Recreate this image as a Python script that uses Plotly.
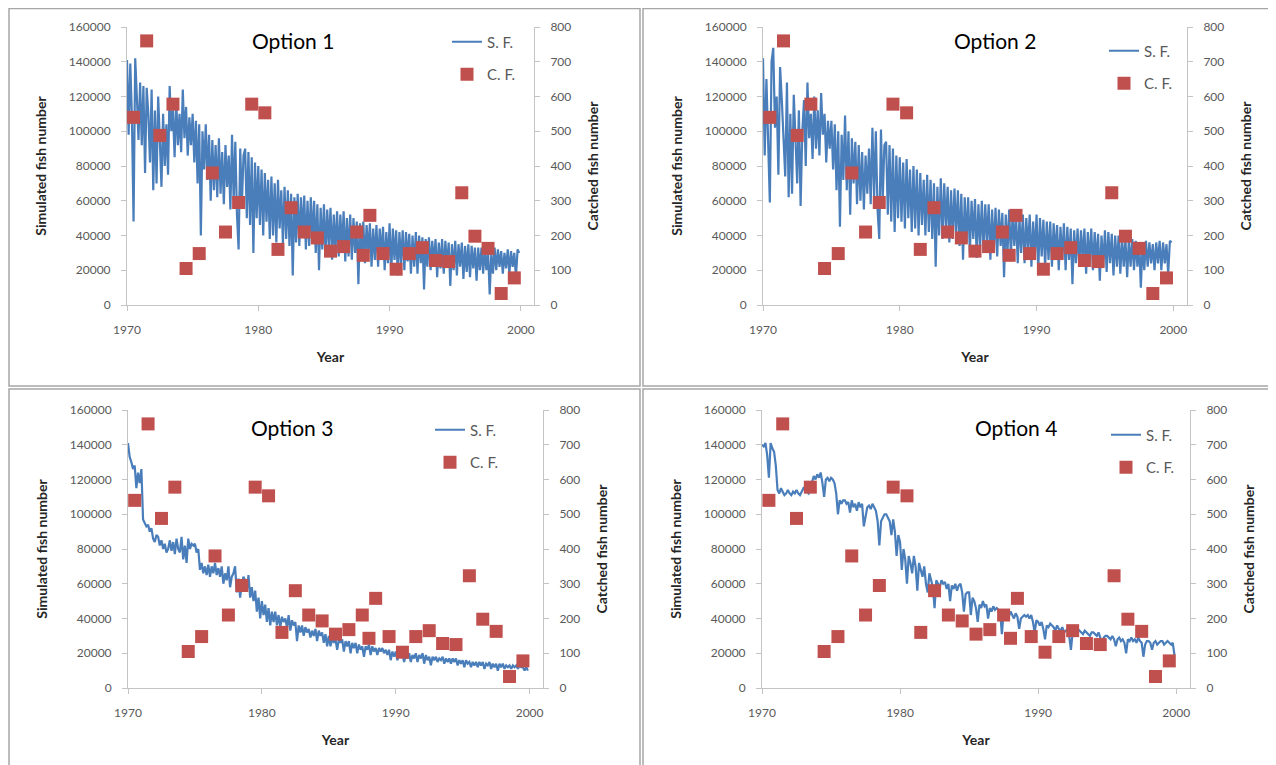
import plotly.graph_objects as go

# ---------------- DATA ----------------
start_year = 1970
steps_per_year = 8  # simulated series sampled 8 times per year

# Simulated fish number (S. F.), in thousands, one row per year 1970..1999
sf_opt1_thousands = [
    141, 98, 139, 108, 48, 142, 120, 95,
    128, 92, 126, 76, 125, 110, 82, 124,
    66, 112, 70, 120, 95, 68, 110, 80,
    104, 75, 126, 100, 112, 85, 118, 92,
    110, 88, 124, 96, 114, 86, 108, 92,
    110, 82, 106, 70, 104, 40, 100, 78,
    104, 72, 98, 60, 95, 66, 92, 62,
    96, 64, 88, 58, 92, 68, 86, 55,
    98, 60, 94, 52, 32, 90, 58, 86,
    90, 50, 88, 46, 85, 30, 82, 50,
    80, 46, 78, 40, 76, 48, 72, 38,
    74, 40, 70, 36, 72, 44, 66, 35,
    68, 38, 66, 34, 64, 17, 62, 36,
    64, 34, 62, 40, 63, 32, 60, 34,
    62, 36, 60, 30, 58, 20, 56, 32,
    58, 28, 55, 34, 56, 26, 52, 30,
    54, 28, 52, 32, 54, 25, 50, 28,
    52, 26, 50, 30, 48, 12, 47, 27,
    48, 24, 46, 30, 47, 22, 44, 26,
    46, 22, 44, 28, 45, 20, 42, 24,
    47, 18, 44, 26, 43, 17, 42, 24,
    43, 20, 42, 25, 41, 18, 40, 22,
    42, 18, 40, 24, 39, 9, 38, 22,
    39, 20, 37, 23, 38, 16, 36, 21,
    38, 18, 37, 22, 36, 11, 35, 20,
    37, 17, 35, 22, 36, 15, 34, 19,
    35, 16, 34, 21, 33, 14, 33, 20,
    33, 18, 32, 20, 31, 6, 30, 18,
    33, 20, 32, 22, 31, 18, 30, 21,
    32, 18, 31, 22, 30, 16, 32, 30,
]

sf_opt2_thousands = [
    142, 86, 130, 100, 59, 140, 148, 102,
    120, 75, 137, 118, 96, 74, 128, 62,
    110, 64, 121, 90, 70, 112, 57, 100,
    118, 80, 128, 96, 110, 84, 120, 90,
    112, 86, 122, 98, 110, 82, 106, 90,
    106, 78, 104, 66, 100, 45, 98, 72,
    109, 66, 100, 52, 96, 70, 94, 58,
    92, 60, 88, 55, 86, 64, 90, 58,
    102, 62, 100, 55, 38, 101, 60, 92,
    94, 52, 92, 48, 90, 42, 86, 50,
    85, 48, 82, 44, 84, 50, 78, 42,
    80, 44, 78, 40, 76, 46, 72, 40,
    75, 42, 72, 38, 70, 22, 68, 40,
    73, 38, 70, 44, 68, 36, 66, 38,
    67, 40, 66, 34, 64, 26, 62, 36,
    62, 30, 60, 38, 61, 27, 58, 34,
    60, 30, 58, 36, 58, 26, 55, 30,
    56, 28, 55, 34, 53, 16, 52, 30,
    55, 28, 52, 34, 52, 24, 50, 30,
    52, 24, 50, 32, 52, 22, 48, 28,
    52, 20, 50, 28, 49, 22, 48, 26,
    48, 22, 47, 28, 46, 20, 45, 26,
    47, 20, 45, 26, 44, 12, 43, 24,
    44, 22, 43, 26, 44, 18, 42, 24,
    44, 20, 42, 24, 41, 14, 40, 22,
    43, 19, 42, 24, 41, 17, 40, 22,
    40, 18, 39, 22, 38, 16, 38, 22,
    38, 20, 37, 22, 36, 10, 36, 20,
    37, 22, 36, 24, 35, 20, 36, 24,
    37, 20, 36, 24, 35, 18, 37, 36,
]

sf_opt3_thousands = [
    141, 133, 130, 126, 128, 115, 124, 118,
    126, 97, 95, 93, 94, 90, 92, 86,
    84, 88, 87, 82, 85, 80, 83, 78,
    80, 85, 79, 84, 77, 86, 80, 78,
    87, 74, 82, 72, 86, 80, 83, 82,
    83, 78, 80, 68, 72, 66, 70, 65,
    71, 64, 70, 66, 72, 65, 69, 64,
    70, 60, 66, 62, 70, 58, 64, 66,
    70, 55, 63, 52, 60, 64, 62, 56,
    65, 52, 58, 50, 56, 44, 52, 40,
    50, 42, 48, 38, 46, 36, 44, 38,
    44, 36, 42, 35, 41, 38, 40, 35,
    42, 33, 39, 36, 38, 27, 36, 32,
    36, 30, 35, 32, 34, 29, 33, 30,
    34, 27, 33, 30, 32, 26, 31, 24,
    30, 24, 29, 26, 28, 22, 28, 26,
    28, 21, 27, 24, 27, 20, 26, 23,
    26, 20, 25, 22, 24, 18, 24, 22,
    25, 19, 24, 21, 23, 19, 23, 21,
    23, 20, 22, 19, 22, 16, 21, 18,
    21, 16, 20, 18, 20, 15, 19, 17,
    20, 15, 19, 17, 20, 15, 19, 17,
    20, 14, 19, 16, 18, 13, 18, 16,
    18, 15, 17, 16, 18, 14, 17, 15,
    17, 14, 17, 15, 17, 13, 16, 14,
    16, 12, 16, 14, 15, 12, 15, 13,
    15, 12, 15, 13, 15, 11, 14, 13,
    15, 11, 14, 12, 14, 10, 14, 12,
    14, 11, 13, 12, 13, 11, 13, 12,
    13, 11, 13, 12, 12, 10, 12, 10,
]

sf_opt4_thousands = [
    140, 139, 141, 134, 121, 141, 138, 136,
    128, 114, 112, 115, 113, 111, 112, 114,
    112, 111, 113, 112, 114, 112, 111, 113,
    115, 114, 113, 112, 115, 118, 122, 120,
    123, 121, 124, 118, 110, 120, 121, 119,
    121, 120, 118, 112, 100, 108, 106, 108,
    108, 106, 107, 101, 108, 104, 106, 102,
    107, 104, 106, 93, 100, 104, 105, 103,
    106, 104, 102, 96, 82, 96, 98, 100,
    100, 98, 96, 88, 97, 90, 76, 88,
    84, 68, 80, 74, 60, 76, 72, 66,
    76, 70, 56, 72, 68, 64, 70, 60,
    55, 66, 62, 58, 46, 62, 60, 58,
    62, 60, 61, 57, 60, 50, 59, 57,
    60, 56, 59, 60, 55, 44, 54, 55,
    55, 42, 52, 50, 46, 38, 48, 46,
    50, 47, 48, 40, 46, 44, 47, 45,
    46, 45, 44, 31, 44, 42, 43, 41,
    44, 42, 40, 43, 41, 34, 40, 41,
    42, 41, 42, 40, 42, 38, 32, 39,
    38, 36, 38, 34, 28, 36, 35, 37,
    36, 35, 33, 36, 34, 33, 35, 32,
    33, 34, 30, 22, 32, 33, 32, 34,
    33, 32, 31, 33, 32, 31, 30, 32,
    32, 31, 30, 32, 29, 22, 29, 30,
    30, 29, 28, 30, 28, 24, 28, 29,
    27, 28, 26, 20, 28, 27, 29, 27,
    28, 26, 29, 27, 26, 18, 25, 27,
    27, 26, 22, 26, 27, 25, 26, 27,
    27, 25, 26, 27, 26, 25, 26, 19,
]

# Catched fish number (C. F.), same observations in every panel
cf_years = [1970.5, 1971.5, 1972.5, 1973.5, 1974.5, 1975.5, 1976.5, 1977.5,
            1978.5, 1979.5, 1980.5, 1981.5, 1982.5, 1983.5, 1984.5, 1985.5,
            1986.5, 1987.5, 1988.0, 1988.5, 1989.5, 1990.5, 1991.5, 1992.5,
            1993.5, 1994.5, 1995.5, 1996.5, 1997.5, 1998.5, 1999.5]
cf_values = [540, 760, 488, 578, 105, 148, 380, 210,
             295, 578, 553, 160, 280, 210, 193, 155,
             168, 210, 143, 258, 148, 103, 148, 165,
             128, 125, 323, 198, 163, 33, 78]

option_titles = ["Option 1", "Option 2", "Option 3", "Option 4"]
sf_series_thousands = [sf_opt1_thousands, sf_opt2_thousands,
                       sf_opt3_thousands, sf_opt4_thousands]

x_ticks = [1970, 1980, 1990, 2000]
left_ticks = [0, 20000, 40000, 60000, 80000, 100000, 120000, 140000, 160000]
right_ticks = [0, 100, 200, 300, 400, 500, 600, 700, 800]

# ---------------- LAYOUT (pixel geometry) ----------------
# The page body has an 8 px margin, so the figure is sized to fill the rest
# of the 1276x765 window and all positions are given in window pixels.
PAGE_OFFSET = 8
W, H = 1276 - PAGE_OFFSET, 765 - PAGE_OFFSET
BLUE = "#4a7ebb"
RED = "#c0504d"
AXIS = "#c4c4c4"
TICKTXT = "#595959"
TITLETXT = "#262626"
FONT = "Lato"

def px(x):
    return (x - PAGE_OFFSET) / W

def py(y):
    return 1 - (y - PAGE_OFFSET) / H

# plot-area pixel boxes in window coords: (left, right, top, bottom)
panel_boxes = [
    (127, 534, 27, 305),
    (763, 1187, 27, 305),
    (128, 543, 410, 688),
    (762, 1190, 410, 688),
]
title_pos = [(293, 41), (995, 41), (292, 427), (1016, 427)]
legend_pos = [(447, 25.5), (1104, 34.5), (430, 413.5), (1106, 418.5)]
frames = [(9, 8.6, 640, 386), (643, 8.6, 1274.5, 386),
          (9, 389, 640, 772), (643, 389, 1274.5, 772)]

fig = go.Figure()
layout = dict(
    width=W, height=H,
    margin=dict(l=0, r=0, t=0, b=0, pad=0, autoexpand=False),
    paper_bgcolor="white", plot_bgcolor="white",
    font=dict(family=FONT, size=12, color=TICKTXT),
    showlegend=True,
    annotations=[], shapes=[],
)

for k in range(4):
    n = k + 1
    xname = "x" if n == 1 else f"x{n}"
    yl = "y" if n == 1 else f"y{n}"
    yr = f"y{n + 4}"
    legname = "legend" if n == 1 else f"legend{n}"
    sf_vals = [v * 1000 for v in sf_series_thousands[k]]
    sf_time = [start_year + i / steps_per_year for i in range(len(sf_vals))]

    fig.add_trace(go.Scatter(
        x=sf_time, y=sf_vals, mode="lines", name="S. F.",
        line=dict(color=BLUE, width=2.2), xaxis=xname, yaxis=yl,
        legend=legname, legendgroup=f"sf{n}",
    ))
    fig.add_trace(go.Scatter(
        x=cf_years, y=cf_values, mode="markers", name="C. F.",
        marker=dict(symbol="square", size=13, color=RED),
        xaxis=xname, yaxis=yr, legend=legname, legendgroup=f"cf{n}",
    ))

    l, r, t, b = panel_boxes[k]
    xkey = "xaxis" if n == 1 else f"xaxis{n}"
    ylkey = "yaxis" if n == 1 else f"yaxis{n}"
    yrkey = f"yaxis{n + 4}"
    layout[xkey] = dict(
        domain=[px(l), px(r)], anchor=yl, range=[1970, 2001],
        tickvals=x_ticks, tickformat="d", showgrid=False, zeroline=False,
        showline=True, linecolor=AXIS, linewidth=1, automargin=False,
        ticks="outside", ticklen=5, tickcolor=AXIS, ticklabelstandoff=9,
        tickfont=dict(size=12, color=TICKTXT, family=FONT),
        title=dict(text="<b>Year</b>", standoff=15,
                   font=dict(size=14, color=TITLETXT, family=FONT)),
    )
    layout[ylkey] = dict(
        domain=[py(b), py(t)], anchor=xname, range=[0, 160000],
        tickvals=left_ticks, tickformat="d", showgrid=False, zeroline=False,
        showline=True, linecolor=AXIS, linewidth=1, automargin=False,
        ticks="outside", ticklen=5, tickcolor=AXIS, ticklabelstandoff=8,
        tickfont=dict(size=12, color=TICKTXT, family=FONT),
        title=dict(text="<b>Simulated fish number</b>", standoff=18,
                   font=dict(size=14, color=TITLETXT, family=FONT)),
    )
    layout[yrkey] = dict(
        overlaying=yl, side="right", anchor=xname, range=[0, 800],
        tickvals=right_ticks, tickformat="d", showgrid=False, zeroline=False,
        showline=True, linecolor=AXIS, linewidth=1, automargin=False,
        ticks="outside", ticklen=5, tickcolor=AXIS, ticklabelstandoff=8,
        tickfont=dict(size=12, color=TICKTXT, family=FONT),
        title=dict(text="<b>Catched fish number</b>", standoff=17,
                   font=dict(size=14, color=TITLETXT, family=FONT)),
    )
    lx, ly = legend_pos[k]
    layout[legname] = dict(
        x=px(lx), y=py(ly), xanchor="left", yanchor="top",
        bgcolor="rgba(0,0,0,0)", borderwidth=0,
        font=dict(size=15, color=TICKTXT, family=FONT),
        traceorder="grouped", tracegroupgap=10,
    )
    tx, ty = title_pos[k]
    layout["annotations"].append(dict(
        text=option_titles[k], x=px(tx), y=py(ty), xref="paper", yref="paper",
        xanchor="center", yanchor="middle", showarrow=False,
        font=dict(size=21, color="#000000", family=FONT),
    ))
    fx0, fy0, fx1, fy1 = frames[k]
    layout["shapes"].append(dict(
        type="rect", xref="paper", yref="paper",
        x0=px(fx0), x1=px(fx1), y0=py(fy1), y1=py(fy0),
        line=dict(color="#a6a6a6", width=1.5), layer="below",
    ))

fig.update_layout(**layout)
fig.write_html("out.html")
